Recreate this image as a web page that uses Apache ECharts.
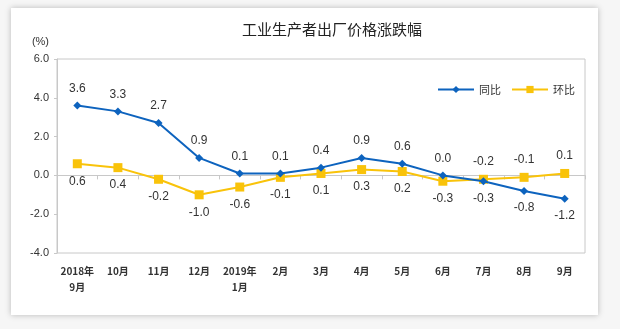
<!DOCTYPE html>
<html><head><meta charset="utf-8">
<script src="https://cdn.jsdelivr.net/npm/echarts@6/dist/echarts.min.js"></script>
<style>html,body{margin:0;padding:0;background:#f4f4f4;}#c{width:620px;height:329px;}</style>
</head><body><div id="c"></div>
<script>
var categories = ['2018年\n9月','10月','11月','12月','2019年\n1月','2月','3月','4月','5月','6月','7月','8月','9月'];
var tongbi = [3.6, 3.3, 2.7, 0.9, 0.1, 0.1, 0.4, 0.9, 0.6, 0.0, -0.3, -0.8, -1.2];
var huanbi = [0.6, 0.4, -0.2, -1.0, -0.6, -0.1, 0.1, 0.3, 0.2, -0.3, -0.2, -0.1, 0.1];
var tongbiLabelPos = ['top','top','top','top','top','top','top','top','top','top','bottom','bottom','bottom'];
var huanbiLabelPos = ['bottom','bottom','bottom','bottom','bottom','bottom','bottom','bottom','bottom','bottom','top','top','top'];
var yTicks = [-4, -2, 0, 2, 4, 6];

var chart = echarts.init(document.getElementById('c'));
function mk(vals, pos){ return vals.map(function(v,i){ return {value:v, label:{position:pos[i]}}; }); }
var lblStyle = {show:true, color:'#333', fontSize:12, fontFamily:'Arial, Liberation Sans, sans-serif', distance:7, formatter:function(p){return p.value.toFixed(1);}};
chart.setOption({
  animation:false,
  backgroundColor:'#f6f6f6',
  graphic:[{type:'rect', shape:{x:11,y:8,width:587,height:307}, style:{fill:'#fff', shadowBlur:6, shadowColor:'rgba(0,0,0,0.25)'}, z:-10}],
  title:{text:'工业生产者出厂价格涨跌幅', left:327, textAlign:'center', top:17, textStyle:{fontSize:15, fontWeight:'normal', color:'#222', fontFamily:'Noto Sans CJK SC'}},
  legend:{right:40, top:79, itemWidth:36, itemHeight:9, itemGap:10, textStyle:{fontSize:11, color:'#333', fontFamily:'Noto Sans CJK SC'},
    data:['同比','环比']},
  grid:{left:57, right:35, top:59, bottom:76, show:true, borderColor:'#c8c8c8', borderWidth:1},
  xAxis:{type:'category', data:categories, boundaryGap:true,
    axisLine:{onZero:true, lineStyle:{color:'#c8c8c8'}},
    axisTick:{show:true, length:4, lineStyle:{color:'#c8c8c8'}},
    axisLabel:{interval:0, color:'#333', fontSize:10, fontWeight:'bold', fontFamily:'Noto Sans CJK SC', lineHeight:16, margin:10}},
  yAxis:{type:'value', min:-4, max:6, interval:2, name:'(%)', nameLocation:'end', nameGap:12,
    nameTextStyle:{color:'#333', fontSize:11, align:'right', padding:[0,8,0,0]},
    axisLine:{show:true, lineStyle:{color:'#c8c8c8'}}, axisTick:{show:true, length:3, lineStyle:{color:'#c8c8c8'}},
    splitLine:{show:false},
    axisLabel:{color:'#333', fontSize:11, fontFamily:'Arial, Liberation Sans, sans-serif', margin:8, formatter:function(v){return v.toFixed(1);}}},
  series:[
    {name:'同比', type:'line', data:mk(tongbi, tongbiLabelPos), symbol:'diamond', symbolSize:8,
      lineStyle:{color:'#0d63be', width:2}, itemStyle:{color:'#0d63be'}, label:lblStyle, z:3},
    {name:'环比', type:'line', data:mk(huanbi, huanbiLabelPos), symbol:'rect', symbolSize:9,
      lineStyle:{color:'#f9c30a', width:2}, itemStyle:{color:'#f9c30a'}, label:lblStyle, z:2}
  ]
});
</script></body></html>
